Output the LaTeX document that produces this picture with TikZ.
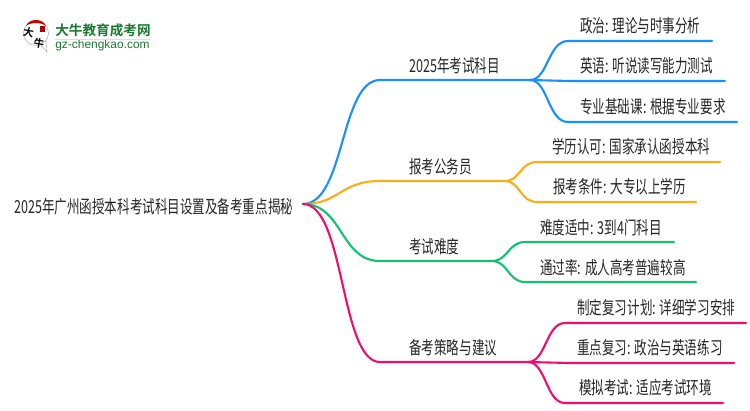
\documentclass[tikz,border=0pt]{standalone}
\usepackage{fontspec}
\usepackage{xcolor}
\setmainfont{Noto Sans CJK SC}[FakeStretch=.7]
\newfontfamily\logofont{Noto Sans CJK SC Bold}
\newfontfamily\urlfont{Liberation Sans}
\definecolor{lblue}{RGB}{24,144,255}
\definecolor{lorange}{RGB}{250,173,20}
\definecolor{lgreen}{RGB}{19,194,110}
\definecolor{lpink}{RGB}{245,10,110}
\definecolor{lmark}{RGB}{24,122,48}
\tikzset{
  lab/.style={anchor=west,inner sep=0pt,yshift=-.02cm,font=\fontsize{10.2pt}{10.2pt}\selectfont,text=black!85},
  branch/.style={line width=1.2pt,line cap=round},
}
\begin{document}
\begin{tikzpicture}[x=0.02cm,y=-0.02cm]
\useasboundingbox (0,0) rectangle (750,410);
% logo
\fill[white,draw=black!25,line width=.4pt] (36,33) circle (12.5);
\fill[white,draw=black!25,line width=.4pt] (40,44) -- (47,52) -- (46,41) -- cycle;
\fill[white] (38,41) circle (4);
\fill[red!80!black] (26,26) .. controls (29,18) and (43,18) .. (46,26) .. controls (41,22) and (31,22) .. (26,26) -- cycle;
\fill[red!70!black] (40,26) rectangle (45,32);
\node[inner sep=0pt,font=\fontsize{6pt}{6pt}\logofont,rotate=-10] (logo1) at (28.5,32) {大};
\node[inner sep=0pt,font=\fontsize{6pt}{6pt}\logofont,rotate=-10] (logo2) at (39,43) {牛};
\node[anchor=west,inner sep=0pt,font=\fontsize{7.75pt}{7.75pt}\logofont,text=lmark] (logotitle) at (55,30) {大牛教育成考网};
\node[anchor=west,inner sep=0pt,font=\fontsize{6.8pt}{6.8pt}\urlfont,text=lmark] (logourl) at (55,45.5) {gz-chengkao.com};
\fill[lmark!20] (55,38.5) rectangle (150,39.5);
% root
\node[lab] (root) at (14,206) {2025年广州函授本科考试科目设置及备考重点揭秘};
\coordinate (r0) at (303,204);
% main branches
\coordinate (b1a) at (380,80);
\coordinate (b1) at (530,80);
\coordinate (b2a) at (380,181);
\coordinate (b2) at (505,181);
\coordinate (b3a) at (380,261);
\coordinate (b3) at (492,261);
\coordinate (b4a) at (380,362);
\coordinate (b4) at (528,362);
% leaf starts and ends
\coordinate (c1a) at (568,41);
\coordinate (c1) at (712,41);
\coordinate (c2a) at (570,81);
\coordinate (c2) at (725,81);
\coordinate (c3a) at (568,122);
\coordinate (c3) at (737,122);
\coordinate (d1a) at (537,162);
\coordinate (d1) at (720,162);
\coordinate (d2a) at (537,202);
\coordinate (d2) at (696,202);
\coordinate (e1a) at (525,242);
\coordinate (e1) at (674,242);
\coordinate (e2a) at (525,282);
\coordinate (e2) at (696,282);
\coordinate (f1a) at (565,323);
\coordinate (f1) at (746,323);
\coordinate (f2a) at (570,363);
\coordinate (f2) at (734,363);
\coordinate (f3a) at (565,403);
\coordinate (f3) at (723,403);
% labels
\node[lab] (n1) at (409,65) {2025年考试科目};
\node[lab] (n2) at (409,166) {报考公务员};
\node[lab] (n3) at (409,246) {考试难度};
\node[lab] (n4) at (409,347) {备考策略与建议};
\node[lab] (m1) at (580,25) {政治: 理论与时事分析};
\node[lab] (m2) at (580,65) {英语: 听说读写能力测试};
\node[lab] (m3) at (580,106) {专业基础课: 根据专业要求};
\node[lab] (m4) at (552,146) {学历认可: 国家承认函授本科};
\node[lab] (m5) at (553,186) {报考条件: 大专以上学历};
\node[lab] (m6) at (540,227) {难度适中: 3到4门科目};
\node[lab] (m7) at (540,267) {通过率: 成人高考普遍较高};
\node[lab] (m8) at (577,307) {制定复习计划: 详细学习安排};
\node[lab] (m9) at (577,347) {重点复习: 政治与英语练习};
\node[lab] (m10) at (579,387) {模拟考试: 适应考试环境};
% blue
\draw[branch,lblue] (r0) .. controls (345,204) and (340,80) .. (b1a) -- (b1);
\draw[branch,lblue] (b1) .. controls (548,80) and (548,41) .. (c1a) -- (c1);
\draw[branch,lblue] (b1) -- (c2a) -- (c2);
\draw[branch,lblue] (b1) .. controls (548,80) and (548,122) .. (c3a) -- (c3);
% orange
\draw[branch,lorange] (r0) .. controls (340,204) and (340,181) .. (b2a) -- (b2);
\draw[branch,lorange] (b2) .. controls (520,181) and (520,162) .. (d1a) -- (d1);
\draw[branch,lorange] (b2) .. controls (520,181) and (520,202) .. (d2a) -- (d2);
% green
\draw[branch,lgreen] (r0) .. controls (343,204) and (340,261) .. (b3a) -- (b3);
\draw[branch,lgreen] (b3) .. controls (508,261) and (508,242) .. (e1a) -- (e1);
\draw[branch,lgreen] (b3) .. controls (508,261) and (508,282) .. (e2a) -- (e2);
% pink
\draw[branch,lpink] (r0) .. controls (345,204) and (340,362) .. (b4a) -- (b4);
\draw[branch,lpink] (b4) .. controls (546,362) and (546,323) .. (f1a) -- (f1);
\draw[branch,lpink] (b4) -- (f2a) -- (f2);
\draw[branch,lpink] (b4) .. controls (546,362) and (546,403) .. (f3a) -- (f3);
\end{tikzpicture}
\end{document}
